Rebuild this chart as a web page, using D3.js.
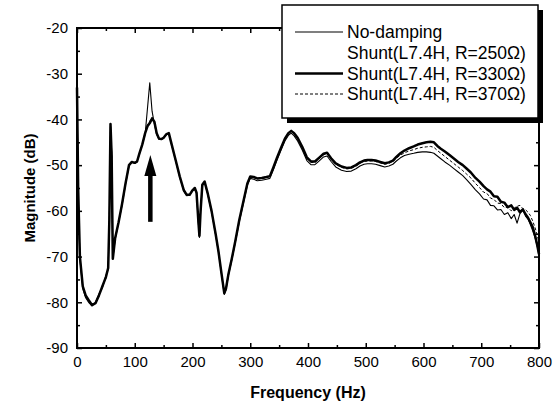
<!DOCTYPE html>
<html>
<head>
<meta charset="utf-8">
<script src="https://cdn.jsdelivr.net/npm/d3@7"></script>
<style>
  html, body { margin: 0; padding: 0; background: #fff; }
  svg { display: block; font-family: "Liberation Sans", Arial, sans-serif; }
</style>
</head>
<body>
<svg id="chart" width="559" height="405"></svg>
<script>
// ---------- data ----------
const freq = [0, 2, 5, 10, 15, 20, 26, 32, 38, 44, 50, 54, 56, 58, 60, 62, 66, 72, 78, 84, 90, 95, 100, 104, 108, 113, 118, 122, 126, 130, 134, 138, 142, 146, 150, 155, 159, 164, 170, 178, 185, 190, 195, 200, 204, 207, 210, 212, 214, 217, 221, 226, 233, 240, 245, 250, 255, 258, 262, 268, 274, 281, 288, 295, 300, 306, 312, 320, 328, 334, 340, 346, 353, 360, 366, 371, 376, 382, 390, 398, 405, 412, 420, 427, 433, 440, 448, 458, 467, 475, 483, 490, 497, 503, 510, 517, 525, 533, 540, 547, 553, 560, 567, 575, 583, 590, 598, 605, 612, 618, 624, 630, 637, 645, 652, 660, 668, 675, 682, 690, 697, 704, 710, 716, 722, 728, 734, 740, 746, 752, 757, 762, 767, 772, 777, 781, 785, 789, 793, 797, 800];

const magR330 = [-33, -55, -70, -76.5, -78.5, -79.5, -80.6, -80.2, -78.5, -76.5, -74.5, -72.5, -62, -41, -48, -70.5, -66, -62.5, -58.5, -54, -50, -49.3, -49.5, -49.2, -47.5, -45.5, -43, -41.5, -40.8, -39.8, -40.5, -43, -44.2, -44.3, -44, -43.2, -43, -45.5, -48.5, -52.5, -55.5, -56.5, -56.5, -55.5, -55, -56, -62, -65.5, -60, -54.3, -53.6, -56, -60, -65, -68.9, -73.5, -78, -77, -74, -70.5, -66.7, -62, -58, -54, -52.5, -52.6, -52.9, -52.8, -52.6, -52.4, -50.5, -48.5, -46.3, -44.2, -43, -42.5, -43, -44, -46, -48.3, -49.2, -49.2, -48.3, -47.5, -47.3, -48.5, -49.6, -50.3, -50.6, -50.5, -50, -49.4, -49, -48.9, -48.9, -49, -49.3, -49.6, -49.4, -49, -48.2, -47.4, -46.8, -46.3, -45.9, -45.5, -45.2, -45, -44.9, -45, -45.8, -46.4, -47, -47.8, -48.5, -49.3, -50, -50.8, -51.6, -52.8, -53.6, -54.6, -55.3, -55.8, -56.8, -56.9, -58, -58.2, -59.2, -58.8, -59.8, -59.3, -60.3, -59.7, -60.8, -61.5, -62.5, -63.5, -65.3, -67.5, -69.5];

const magNoDamping = [-33.5, -56, -70.5, -77, -79, -80, -80.8, -80, -78.2, -76.8, -74.2, -72.8, -62, -41.5, -47, -70.5, -66.3, -62.5, -58.8, -54.2, -50.2, -49.3, -49.6, -49.3, -47.6, -45.6, -43.2, -37.6, -32, -38.2, -41, -43.3, -44.4, -44.4, -44.1, -43.3, -43.1, -45.6, -48.6, -52.7, -55.7, -56.7, -56.6, -55.6, -55.2, -56.2, -62.5, -65.8, -60.3, -54.5, -53.8, -56.2, -60.2, -65.2, -69.1, -73.7, -78.3, -77.3, -74.3, -70.8, -67, -62.4, -58.4, -54.4, -52.9, -53.1, -53.4, -53.3, -53.1, -52.9, -51, -49, -46.8, -44.7, -43.5, -43, -43.6, -44.7, -46.7, -49, -49.9, -49.9, -49, -48.2, -48, -49.2, -50.4, -51.1, -51.4, -51.3, -50.8, -50.2, -49.8, -49.7, -49.7, -49.8, -50.1, -50.4, -50.2, -49.8, -49.1, -48.4, -47.9, -47.6, -47.4, -47.2, -47.1, -47.1, -47.2, -47.4, -48, -48.6, -49.3, -50, -50.7, -51.5, -52.3, -53.2, -54.2, -55.4, -56.3, -57.4, -57.6, -58.8, -58.9, -59.8, -59.7, -60.8, -60.4, -61.7, -60.8, -62.7, -60.6, -59.6, -61.2, -61.8, -63, -64.3, -65.8, -67.8, -69.8];

const magR370 = [-33, -55.5, -70, -76.5, -78.8, -79.8, -80.4, -80.3, -78.7, -76.3, -74.8, -72.3, -62, -41.2, -47.5, -70.5, -66, -62.5, -58.5, -54, -50, -49.3, -49.5, -49.2, -47.5, -45.4, -42.9, -41.2, -40.4, -39.5, -40.4, -42.9, -44.1, -44.3, -44, -43.2, -43, -45.5, -48.5, -52.5, -55.5, -56.5, -56.5, -55.5, -55, -56, -62, -65.5, -60, -54.3, -53.6, -56, -60, -65, -68.9, -73.5, -78, -77, -74, -70.5, -66.7, -62, -58, -54, -52.6, -52.7, -53, -52.9, -52.7, -52.5, -50.6, -48.6, -46.4, -44.3, -43.1, -42.6, -43.1, -44.2, -46.2, -48.5, -49.4, -49.4, -48.5, -47.7, -47.5, -48.7, -49.8, -50.5, -50.8, -50.7, -50.2, -49.6, -49.2, -49.1, -49.1, -49.2, -49.5, -49.8, -49.6, -49.2, -48.5, -47.8, -47.3, -46.9, -46.6, -46.3, -46.1, -46, -45.9, -46.1, -46.8, -47.4, -48.1, -48.9, -49.6, -50.4, -51.2, -52, -52.8, -54, -54.9, -55.9, -56.2, -57.2, -57.5, -58.3, -58.4, -59.3, -59.2, -60, -59.4, -59, -58.8, -59.5, -59.8, -60.3, -61, -62.2, -63.6, -65.3, -67];

const xTicks = [0, 100, 200, 300, 400, 500, 600, 700, 800];
const xMinorTicks = [50, 150, 250, 350, 450, 550, 650, 750];
const yTicks = [-90, -80, -70, -60, -50, -40, -30, -20];
const yMinorTicks = [-85, -75, -65, -55, -45, -35, -25];

const legendLabels = ["No-damping", "Shunt(L7.4H, R=250\u03A9)", "Shunt(L7.4H, R=330\u03A9)", "Shunt(L7.4H, R=370\u03A9)"];
const arrowFreq = 127;
const arrowFrom = -62.4;
const arrowTo = -47.8;

// ---------- chart ----------
(function () {
const svg = d3.select("#chart");
const pL = 77, pR = 539, pT = 28, pB = 348;
const x = d3.scaleLinear().domain([0, 800]).range([pL, pR]);
const y = d3.scaleLinear().domain([-90, -20]).range([pB, pT]);

svg.append("rect").attr("width", 559).attr("height", 405).attr("fill", "#fff");

const fontF = '"Liberation Sans", Arial, sans-serif';
const fmt = d => String(d);

function styleAxis(g) {
  g.selectAll(".domain").remove();
  g.selectAll(".tick line").attr("stroke", "#000").attr("stroke-width", 1.5);
  g.selectAll("text").attr("fill", "#000").style("font-family", fontF).style("font-size", "15px");
}

svg.append("g").attr("transform", `translate(0,${pB})`)
  .call(d3.axisBottom(x).tickValues(xTicks).tickSizeInner(-5).tickSizeOuter(0).tickPadding(8).tickFormat(fmt))
  .call(styleAxis);
svg.append("g").attr("transform", `translate(0,${pB})`)
  .call(d3.axisBottom(x).tickValues(xMinorTicks).tickSizeInner(-3).tickSizeOuter(0).tickFormat(""))
  .call(styleAxis);
svg.append("g").attr("transform", `translate(0,${pT})`)
  .call(d3.axisTop(x).tickValues(xTicks).tickSizeInner(-5).tickSizeOuter(0).tickFormat(""))
  .call(styleAxis);
svg.append("g").attr("transform", `translate(0,${pT})`)
  .call(d3.axisTop(x).tickValues(xMinorTicks).tickSizeInner(-3).tickSizeOuter(0).tickFormat(""))
  .call(styleAxis);
svg.append("g").attr("transform", `translate(${pL},0)`)
  .call(d3.axisLeft(y).tickValues(yTicks).tickSizeInner(-5).tickSizeOuter(0).tickPadding(9).tickFormat(fmt))
  .call(styleAxis);
svg.append("g").attr("transform", `translate(${pL},0)`)
  .call(d3.axisLeft(y).tickValues(yMinorTicks).tickSizeInner(-3).tickSizeOuter(0).tickFormat(""))
  .call(styleAxis);
svg.append("g").attr("transform", `translate(${pR},0)`)
  .call(d3.axisRight(y).tickValues(yTicks).tickSizeInner(-5).tickSizeOuter(0).tickFormat(""))
  .call(styleAxis);
svg.append("g").attr("transform", `translate(${pR},0)`)
  .call(d3.axisRight(y).tickValues(yMinorTicks).tickSizeInner(-3).tickSizeOuter(0).tickFormat(""))
  .call(styleAxis);

svg.append("rect").attr("x", pL).attr("y", pT).attr("width", pR - pL).attr("height", pB - pT)
  .attr("fill", "none").attr("stroke", "#000").attr("stroke-width", 2);

const line = d3.line().x(d => x(d[0])).y(d => y(d[1]));
const mk = arr => freq.map((f, i) => [f, arr[i]]);

svg.append("path").datum(mk(magNoDamping)).attr("d", line)
  .attr("fill", "none").attr("stroke", "#000").attr("stroke-width", 1.1).attr("stroke-linejoin", "round");
svg.append("path").datum(mk(magR370)).attr("d", line)
  .attr("fill", "none").attr("stroke", "#000").attr("stroke-width", 1).attr("stroke-dasharray", "3,2");
svg.append("path").datum(mk(magR330)).attr("d", line)
  .attr("fill", "none").attr("stroke", "#000").attr("stroke-width", 2.5).attr("stroke-linejoin", "round");

const ax = x(arrowFreq), ayTip = y(arrowTo), ayBase = y(arrowFrom);
svg.append("line").attr("x1", ax).attr("x2", ax).attr("y1", ayBase).attr("y2", ayTip + 18)
  .attr("stroke", "#000").attr("stroke-width", 4.5);
svg.append("path")
  .attr("d", `M${ax},${ayTip} L${ax - 6},${ayTip + 21} L${ax + 6},${ayTip + 21} Z`)
  .attr("fill", "#000");

const lg = svg.append("g");
const lx = 282, ly = 5, lw = 256, lh = 113;
lg.append("rect").attr("x", lx + 5).attr("y", ly + 5).attr("width", lw).attr("height", lh).attr("fill", "#000");
lg.append("rect").attr("x", lx).attr("y", ly).attr("width", lw).attr("height", lh)
  .attr("fill", "#fff").attr("stroke", "#000").attr("stroke-width", 1.5);

const rowY = [32, 53, 73.5, 94];
const styles = [
  { w: 1.1, dash: null, show: true },
  { w: 1, dash: null, show: false },
  { w: 2.5, dash: null, show: true },
  { w: 1, dash: "3,2", show: true }
];
legendLabels.forEach((lab, i) => {
  if (styles[i].show) {
    const l = lg.append("line").attr("x1", 295).attr("x2", 343).attr("y1", rowY[i]).attr("y2", rowY[i])
      .attr("stroke", "#000").attr("stroke-width", styles[i].w);
    if (styles[i].dash) l.attr("stroke-dasharray", styles[i].dash);
  }
  lg.append("text").attr("x", 347).attr("y", rowY[i]).attr("dy", "0.36em")
    .style("font-size", "17.5px").style("font-family", fontF).attr("fill", "#000").text(lab);
});

svg.append("text").attr("x", (pL + pR) / 2).attr("y", 398).attr("text-anchor", "middle")
  .style("font-size", "16px").style("font-weight", "bold").style("font-family", fontF).text("Frequency (Hz)");
svg.append("text").attr("transform", `translate(35,${(pT + pB) / 2}) rotate(-90)`).attr("text-anchor", "middle")
  .style("font-size", "15px").style("font-weight", "bold").style("font-family", fontF).text("Magnitude (dB)");
})();
</script>
</body>
</html>
